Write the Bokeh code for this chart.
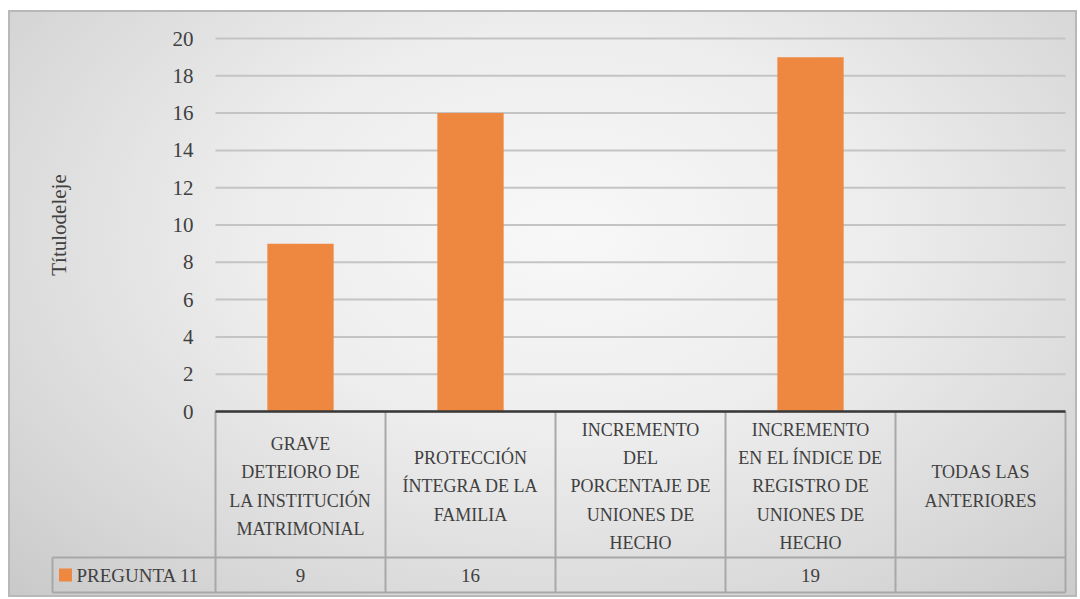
from bokeh.plotting import figure
from bokeh.models import Range1d, FixedTicker
from bokeh.embed import file_html
from bokeh.resources import INLINE
from bokeh.core.properties import value

# ---------------- data ----------------
categories = [
    "GRAVE\nDETEIORO DE\nLA INSTITUCIÓN\nMATRIMONIAL",
    "PROTECCIÓN\nÍNTEGRA DE LA\nFAMILIA",
    "INCREMENTO\nDEL\nPORCENTAJE DE\nUNIONES DE\nHECHO",
    "INCREMENTO\nEN EL ÍNDICE DE\nREGISTRO DE\nUNIONES DE\nHECHO",
    "TODAS LAS\nANTERIORES",
]
series_name = "PREGUNTA 11"
series_values = [9, 16, None, 19, None]
y_ticks = [0, 2, 4, 6, 8, 10, 12, 14, 16, 18, 20]
y_title = "Títulodeleje"

# ---------------- style / layout ----------------
FONT_NAME = "Liberation Serif, Tinos, Times New Roman, DejaVu Serif, serif"
FONT = value(FONT_NAME)
TXT = "#404040"
BAR = "#EE8840"
LINE = "#a8a8a8"
W, H = 1069, 587
B_LEFT, B_RIGHT, B_TOP, B_BOT = 42, 10, 10, 3
PX = 170.0            # pixels per category column
PXY = 18.65           # pixels per value unit
CAT_OFF = 165         # pixels from frame left to first category column
LEG_OFF = 2           # pixels from frame left to legend cell edge
ZERO_OFF = 391        # pixels from frame top to value 0

frame_w = W - B_LEFT - B_RIGHT
frame_h = H - B_TOP - B_BOT
x_start = 0.5 - CAT_OFF / PX
x_end = x_start + frame_w / PX
y_end = ZERO_OFF / PXY
y_start = y_end - frame_h / PXY

xs = list(range(1, len(categories) + 1))
col_edges = [x - 0.5 for x in xs] + [xs[-1] + 0.5]
leg_left = x_start + LEG_OFF / PX
T_TOP = 0.0
T_MID = -146 / PXY
T_BOT = -181 / PXY
CAT_Y = -75 / PXY
VAL_Y = (T_MID + T_BOT) / 2

p = figure(width=W, height=H, x_range=Range1d(x_start, x_end), y_range=Range1d(y_start, y_end),
           output_backend="svg", toolbar_location=None, x_axis_location=None,
           min_border_left=B_LEFT, min_border_right=B_RIGHT, min_border_top=B_TOP, min_border_bottom=B_BOT,
           styles={
               "margin": "10px 0 0 8px",
               "background": "radial-gradient(ellipse at 52% 38%, #f8f8f8 0%, #ededed 40%, #d9d9d9 75%, #c9c9c9 100%)",
               "box-shadow": "inset 0 0 0 2px #b8b8b8",
           })
p.background_fill_alpha = 0
p.border_fill_alpha = 0
p.outline_line_color = None
p.grid.visible = False

# value axis, drawn at the left edge of the category area
ax = p.yaxis[0]
ax.fixed_location = col_edges[0]
ax.bounds = (y_ticks[0], y_ticks[-1])
ax.ticker = FixedTicker(ticks=y_ticks)
ax.axis_line_color = None
ax.major_tick_line_color = None
ax.minor_tick_line_color = None
ax.major_tick_in = 0
ax.major_tick_out = 0
ax.major_label_standoff = 22
ax.major_label_text_font = FONT_NAME
ax.major_label_text_font_size = "21px"
ax.major_label_text_color = TXT
ax.axis_label = y_title
ax.axis_label_text_font = FONT_NAME
ax.axis_label_text_font_size = "21px"
ax.axis_label_text_font_style = "normal"
ax.axis_label_text_color = TXT
ax.axis_label_standoff = 99

# horizontal gridlines
p.segment(x0=[col_edges[0]] * len(y_ticks), y0=y_ticks, x1=[col_edges[-1]] * len(y_ticks), y1=y_ticks,
          line_color="#c4c4c4", line_width=2)

# bars
bx = [x for x, v in zip(xs, series_values) if v is not None]
bt = [v for v in series_values if v is not None]
p.vbar(x=bx, top=bt, bottom=0, width=0.39, fill_color=BAR, line_color=None)

# ---------------- data table ----------------
n = len(col_edges)
p.segment(x0=col_edges, y0=[T_BOT] * n, x1=col_edges, y1=[T_TOP] * n, line_color=LINE, line_width=2)
p.segment(x0=[leg_left], y0=[T_BOT], x1=[leg_left], y1=[T_MID], line_color=LINE, line_width=2)
p.segment(x0=[leg_left, leg_left], y0=[T_BOT, T_MID], x1=[col_edges[-1]] * 2, y1=[T_BOT, T_MID],
          line_color=LINE, line_width=2)
p.segment(x0=[col_edges[0]], y0=[T_TOP], x1=[col_edges[-1]], y1=[T_TOP], line_color="#383838", line_width=2.5)

p.text(x=xs, y=[CAT_Y] * len(xs), text=categories, text_align="center", text_baseline="middle",
       text_font=FONT, text_font_size="18px", text_color=TXT, text_line_height=1.42)
vals_txt = ["" if v is None else str(v) for v in series_values]
p.text(x=xs, y=[VAL_Y] * len(xs), text=vals_txt, text_align="center", text_baseline="middle",
       text_font=FONT, text_font_size="19px", text_color=TXT)
p.scatter(x=[0.5 - 150 / PX], y=[VAL_Y], marker="square", size=13, fill_color=BAR, line_color=None)
p.text(x=[0.5 - 139 / PX], y=[VAL_Y], text=[series_name], text_align="left", text_baseline="middle",
       text_font=FONT, text_font_size="19px", text_color=TXT)

open("out.html", "w").write(file_html(p, INLINE))
